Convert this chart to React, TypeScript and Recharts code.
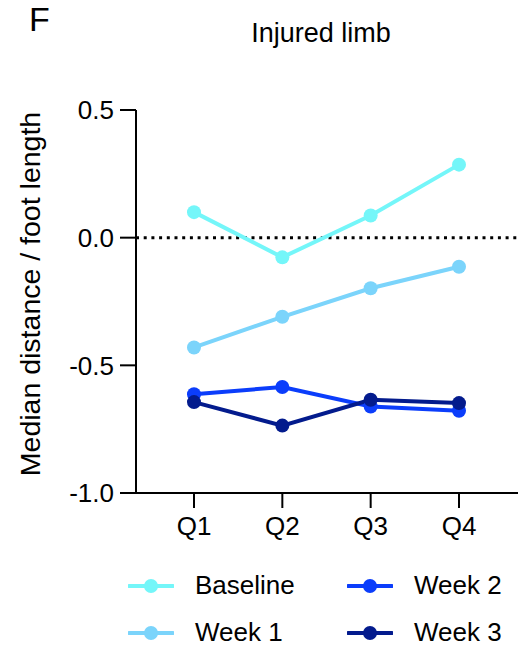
import React from 'react';
import {
  LineChart,
  Line,
  XAxis,
  YAxis,
  ReferenceLine,
  Label
} from 'recharts';

const quarters = ['Q1', 'Q2', 'Q3', 'Q4'];
const baseline = [0.1, -0.077, 0.087, 0.286];
const week1 = [-0.43, -0.31, -0.198, -0.114];
const week2 = [-0.613, -0.585, -0.661, -0.678];
const week3 = [-0.644, -0.736, -0.635, -0.648];
const yTicks = [-1, -0.5, 0, 0.5];

const series = [
  { key: 'baseline', name: 'Baseline', color: '#74F6F9' },
  { key: 'week1', name: 'Week 1', color: '#7BD4FB' },
  { key: 'week2', name: 'Week 2', color: '#0B3DFB' },
  { key: 'week3', name: 'Week 3', color: '#031B8D' }
];

const data = quarters.map((q, i) => ({
  quarter: q,
  baseline: baseline[i],
  week1: week1[i],
  week2: week2[i],
  week3: week3[i]
}));

const font = '"Liberation Sans", Arial, Helvetica, sans-serif';

// legend drawn outside the chart so it doesn't eat into the plot area
const LegendBox = () => (
  <div
    style={{
      position: 'absolute',
      left: 128,
      top: 562,
      display: 'grid',
      gridTemplateRows: '47px 47px',
      gridAutoFlow: 'column',
      gridTemplateColumns: '219px 200px',
      fontSize: 26,
      color: '#000'
    }}
  >
    {series.map(s => (
      <div key={s.key} style={{ display: 'flex', alignItems: 'center' }}>
        <svg width={46} height={20} style={{ marginRight: 21 }}>
          <line x1={1} y1={10} x2={45} y2={10} stroke={s.color} strokeWidth={4} strokeLinecap="round" />
          <circle cx={23} cy={10} r={7} fill={s.color} />
        </svg>
        <span>{s.name}</span>
      </div>
    ))}
  </div>
);

const YTitle = () => (
  <text
    transform="translate(30,294) rotate(-90)"
    textAnchor="middle"
    dominantBaseline="central"
    fill="#000"
    fontSize={28.5}
    fontFamily={font}
  >
    Median distance / foot length
  </text>
);

const formatTick = (v: number) => v.toFixed(1);

export default function App() {
  return (
    <div style={{ position: 'absolute', left: 0, top: 0, width: 531, height: 656, background: '#fff', fontFamily: font }}>
      <div style={{ position: 'absolute', left: 29, top: 0, fontSize: 34 }}>F</div>
      <div style={{ position: 'absolute', left: 0, width: 642, top: 18, textAlign: 'center', fontSize: 27 }}>
        Injured limb
      </div>
      <LineChart
        width={531}
        height={656}
        data={data}
        margin={{ top: 110, right: 13, bottom: 103, left: 0 }}
      >
        <XAxis
          dataKey="quarter"
          padding={{ left: 58, right: 59 }}
          height={60}
          tickSize={15}
          tickMargin={9}
          stroke="#000"
          strokeWidth={2}
          tick={{ fill: '#000', fontSize: 26, fontFamily: font }}
        />
        <YAxis
          domain={[-1, 0.5]}
          ticks={yTicks}
          tickFormatter={formatTick}
          width={136}
          tickSize={16}
          tickMargin={6}
          stroke="#000"
          strokeWidth={2}
          tick={{ fill: '#000', fontSize: 26, fontFamily: font }}
        >
          <Label content={<YTitle />} />
        </YAxis>
        <ReferenceLine y={0} stroke="#000" strokeWidth={3} strokeDasharray="3 4.7" />
        {series.map(s => (
          <Line
            key={s.key}
            dataKey={s.key}
            name={s.name}
            stroke={s.color}
            strokeWidth={4}
            dot={{ r: 7, fill: s.color, stroke: 'none' }}
            activeDot={false}
            isAnimationActive={false}
          />
        ))}
      </LineChart>
      <LegendBox />
    </div>
  );
}
